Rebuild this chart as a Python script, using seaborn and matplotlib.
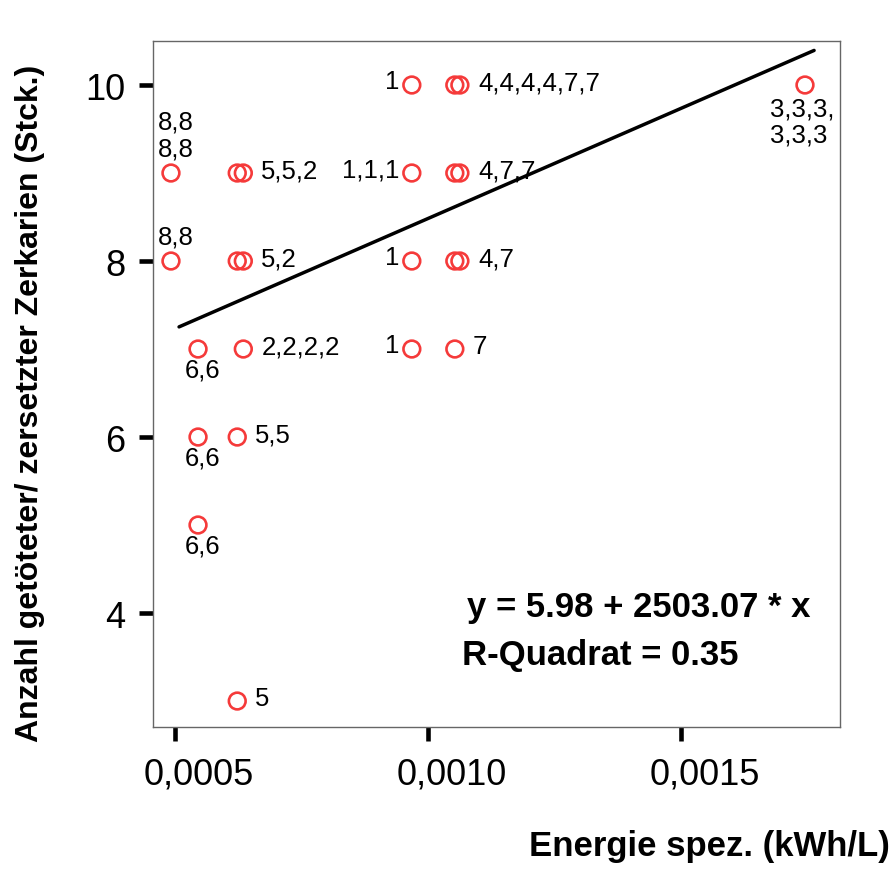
import matplotlib

matplotlib.use("Agg")

import matplotlib.pyplot as plt
import matplotlib.transforms as mtransforms
import numpy as np
import seaborn as sns

# measured points (energy in kWh/L, number of killed cercariae)
energy = [
    0.000492, 0.000492,
    0.0005455, 0.0005455, 0.0005455,
    0.000623, 0.000623, 0.000623, 0.000623,
    0.000635, 0.000635, 0.000635,
    0.000968, 0.000968, 0.000968, 0.000968,
    0.001053, 0.001053, 0.001053, 0.001053,
    0.001063, 0.001063, 0.001063,
    0.001745,
]
killed = [
    9, 8,
    7, 6, 5,
    9, 8, 6, 3,
    9, 8, 7,
    10, 9, 8, 7,
    10, 9, 8, 7,
    10, 9, 8,
    10,
]

# point labels: anchor point, text, side of the point
label_x = [0.000492, 0.000492, 0.0005455, 0.0005455, 0.0005455,
           0.000635, 0.000635, 0.000635, 0.000623, 0.000623,
           0.000968, 0.000968, 0.000968, 0.000968,
           0.001063, 0.001063, 0.001063, 0.001053, 0.001745]
label_y = [9, 8, 7, 6, 5,
           9, 8, 7, 6, 3,
           10, 9, 8, 7,
           10, 9, 8, 7, 10]
label_text = ["8,8\n8,8", "8,8", "6,6", "6,6", "6,6",
              "5,5,2", "5,2", "2,2,2,2", "5,5", "5",
              "1", "1,1,1", "1", "1",
              "4,4,4,4,7,7", "4,7,7", "4,7", "7", "3,3,3,\n3,3,3"]
label_side = ["above", "above", "below", "below", "below",
              "right", "right", "right", "right", "right",
              "left", "left", "left", "left",
              "right", "right", "right", "right", "below3"]

# fitted line
intercept = 5.98
slope = 2503.07
fit_range = [0.000508, 0.001763]

x_ticks = [0.0005, 0.0010, 0.0015]
x_tick_labels = ["0,0005", "0,0010", "0,0015"]
y_ticks = [4, 6, 8, 10]

RED = "#F53A3A"

sns.set_style("white")
plt.rcParams["font.family"] = ["Liberation Sans", "DejaVu Sans"]
plt.rcParams["text.color"] = "black"
plt.rcParams["axes.labelcolor"] = "black"
plt.rcParams["xtick.color"] = "black"
plt.rcParams["ytick.color"] = "black"

W, H = 894, 870
fig = plt.figure(figsize=(W / 100, H / 100), dpi=100)
ax = fig.add_axes([153 / W, (H - 728) / H, 687 / W, 686 / H])

fit_x = np.array(fit_range)
sns.lineplot(x=fit_x, y=intercept + slope * fit_x, ax=ax, color="black", linewidth=2.5)

sns.scatterplot(x=energy, y=killed, ax=ax, marker="o", s=145,
                facecolor="none", edgecolor=RED, linewidth=1.9, zorder=3)

# pixel offsets per side: (dx, dy, ha, va)
offsets = {
    "right": (18, -4, "left", "baseline"),
    "left": (-12, -3, "right", "baseline"),
    "above": (5, 13, "center", "bottom"),
    "below": (5, -8, "center", "top"),
    "below3": (-3, -11, "center", "top"),
}
for lx, ly, txt, side in zip(label_x, label_y, label_text, label_side):
    dx, dy, ha, va = offsets[side]
    ax.annotate(txt, (lx, ly), xytext=(dx, dy), textcoords="offset pixels",
                ha=ha, va=va, multialignment="left", fontsize=18.5,
                linespacing=1.15, color="black")

ax.text((467 - 153) / 687, 1 - (608 - 42) / 686, "y = 5.98 + 2503.07 * x",
        transform=ax.transAxes, fontsize=25, fontweight="bold", ha="left", va="center")
ax.text((462 - 153) / 687, 1 - (656 - 42) / 686, "R-Quadrat = 0.35",
        transform=ax.transAxes, fontsize=25, fontweight="bold", ha="left", va="center")

ax.set_xlim(0.0004565, 0.0018142)
ax.set_ylim(2.705, 10.5)
ax.set_xticks(x_ticks)
ax.set_xticklabels(x_tick_labels)
ax.set_yticks(y_ticks)
ax.tick_params(axis="both", direction="out", length=10, width=3.3, color="black",
               labelsize=26, pad=10, left=True, bottom=True)
ax.tick_params(axis="x", pad=11)

shift = mtransforms.ScaledTranslation(24 / 100, 0, fig.dpi_scale_trans)
for lab in ax.get_xticklabels():
    lab.set_transform(lab.get_transform() + shift)

for spine in ax.spines.values():
    spine.set_color("#666666")
    spine.set_linewidth(1.0)

ax.set_ylabel("Anzahl getöteter/ zersetzter Zerkarien (Stck.)", fontsize=23, fontweight="bold")
ax.yaxis.set_label_coords((30 - 153) / 687, (728 - 403) / 686)
ax.yaxis.label.set_va("center")
ax.set_xlabel("Energie spez. (kWh/L)", fontsize=25, fontweight="bold")
ax.xaxis.set_label_coords((890 - 153) / 687, (728 - 830) / 686)
ax.xaxis.label.set_ha("right")
ax.xaxis.label.set_va("top")

fig.savefig("out.png", dpi=100)
